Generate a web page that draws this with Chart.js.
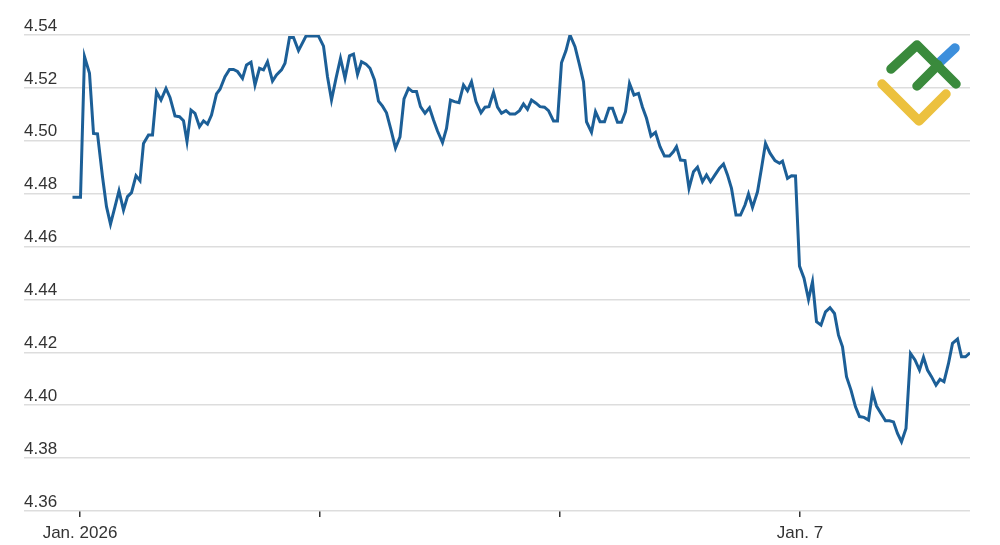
<!DOCTYPE html>
<html>
<head>
<meta charset="utf-8">
<script src="https://cdn.jsdelivr.net/npm/chart.js@4.4.1/dist/chart.umd.min.js"></script>
<style>
  html, body { margin: 0; padding: 0; background: #fff; }
  canvas { display: block; }
</style>
</head>
<body>
<canvas id="grafica" width="1000" height="545"></canvas>
<script>
// ─────────────────────────────────────────
// DATOS (horas desde el 1 de enero, rendimiento %)
// ─────────────────────────────────────────

const horas = [
  -1.5, 0.1, 0.9, 1.9, 2.7, 3.5, 4.5, 5.3, 6.1, 7.0, 7.8, 8.7, 9.5, 10.3, 11.2, 12.0,
  12.7, 13.7, 14.5, 15.3, 16.2, 17.2, 18.0, 19.0, 19.9, 20.7, 21.4, 22.2, 23.0, 23.9,
  24.7, 25.5, 26.3, 27.3, 28.0, 29.0, 29.9, 30.7, 31.5, 32.5, 33.3, 34.2, 35.0, 35.9,
  36.7, 37.5, 38.5, 39.3, 40.3, 41.0, 41.9, 42.7, 43.7, 45.2, 47.7, 48.7, 49.5, 50.3,
  51.2, 52.1, 53.0, 53.9, 54.7, 55.5, 56.3, 57.2, 58.0, 58.9, 59.7, 60.5, 61.3, 62.2,
  63.1, 64.0, 64.8, 65.7, 66.5, 67.3, 68.1, 69.0, 69.9, 70.7, 71.5, 72.5, 73.3, 74.1,
  74.9, 75.8, 76.7, 77.5, 78.3, 79.2, 80.2, 81.0, 81.8, 82.7, 83.5, 84.3, 85.2, 86.0,
  87.0, 87.9, 88.7, 89.5, 90.3, 91.2, 92.0, 92.9, 93.7, 94.7, 95.5, 96.3, 97.2, 98.0,
  99.0, 99.9, 100.7, 101.3, 102.3, 103.1, 104.0, 104.9, 105.8, 106.5, 107.5, 108.3,
  109.1, 109.9, 110.8, 111.7, 112.5, 113.3, 114.2, 115.1, 116.0, 116.9, 117.9, 118.7,
  119.3, 120.1, 121.0, 121.8, 122.7, 123.5, 124.5, 125.3, 126.1, 127.0, 127.9, 128.7,
  129.5, 130.3, 131.2, 132.1, 133.0, 133.7, 134.5, 135.5, 136.3, 137.1, 138.0, 139.0,
  139.9, 140.5, 141.5, 142.3, 143.1, 143.9, 144.8, 145.7, 146.5, 147.3, 148.2, 149.1,
  150.0, 150.9, 151.7, 152.5, 153.3, 154.2, 155.1, 155.9, 156.8, 157.7, 158.5, 159.3,
  160.2, 161.1, 161.9, 162.7, 163.5, 164.3, 165.2, 166.1, 167.0, 167.9, 168.7, 169.5,
  170.3, 171.2, 172.0, 172.8, 173.7, 174.5, 175.5, 176.3, 177.1, 178.0
];

const rendimientos = [
  4.4786, 4.4786, 4.5318, 4.5255, 4.5028, 4.5026, 4.4864, 4.4751, 4.4685, 4.4751, 4.4811, 4.4738, 4.4789, 4.4804, 4.4868, 4.4849,
  4.4990, 4.5022, 4.5022, 4.5186, 4.5154, 4.5198, 4.5164, 4.5094, 4.5091, 4.5076, 4.4997, 4.5116, 4.5104, 4.5053,
  4.5075, 4.5063, 4.5097, 4.5177, 4.5195, 4.5242, 4.5270, 4.5270, 4.5262, 4.5236, 4.5287, 4.5297, 4.5211, 4.5274,
  4.5268, 4.5299, 4.5226, 4.5249, 4.5268, 4.5293, 4.5391, 4.5391, 4.5341, 4.5396, 4.5396, 4.5358, 4.5242, 4.5154,
  4.5236, 4.5312, 4.5236, 4.5321, 4.5328, 4.5251, 4.5299, 4.5290, 4.5274, 4.5230, 4.5150, 4.5131, 4.5106, 4.5041,
  4.4972, 4.5015, 4.5158, 4.5198, 4.5186, 4.5186, 4.5129, 4.5104, 4.5125, 4.5079, 4.5037, 4.4993, 4.5047, 4.5154,
  4.5148, 4.5144, 4.5211, 4.5189, 4.5223, 4.5148, 4.5106, 4.5127, 4.5129, 4.5183, 4.5127, 4.5104, 4.5114, 4.5101,
  4.5101, 4.5114, 4.5139, 4.5119, 4.5154, 4.5142, 4.5129, 4.5127, 4.5114, 4.5075, 4.5075, 4.5295, 4.5341, 4.5400,
  4.5356, 4.5287, 4.5223, 4.5072, 4.5032, 4.5110, 4.5072, 4.5072, 4.5123, 4.5123, 4.5070, 4.5070,
  4.5110, 4.5217, 4.5173, 4.5179, 4.5127, 4.5085, 4.5018, 4.5032, 4.4978, 4.4942, 4.4942, 4.4959,
  4.4978, 4.4927, 4.4925, 4.4820, 4.4883, 4.4900, 4.4845, 4.4871, 4.4845, 4.4871, 4.4896, 4.4912,
  4.4871, 4.4820, 4.4719, 4.4719, 4.4757, 4.4799, 4.4748, 4.4807, 4.4896, 4.4990, 4.4953, 4.4925,
  4.4915, 4.4923, 4.4858, 4.4868, 4.4867, 4.4526, 4.4480, 4.4400, 4.4467, 4.4316, 4.4303, 4.4353,
  4.4369, 4.4347, 4.4265, 4.4221, 4.4108, 4.4057, 4.3994, 4.3957, 4.3954, 4.3944, 4.4049, 4.3997,
  4.3969, 4.3941, 4.3941, 4.3937, 4.3893, 4.3862, 4.3912, 4.4196, 4.4171, 4.4133, 4.4181, 4.4133,
  4.4108, 4.4076, 4.4098, 4.4089, 4.4158, 4.4234, 4.4250, 4.4183, 4.4183, 4.4198
];

// marcas del eje X (horas) y sus etiquetas
const ticksX     = [0, 48, 96, 144];
const etiquetasX = ["Jan. 2026", "", "", "Jan. 7"];

// marcas del eje Y
const ticksY = [4.36, 4.38, 4.40, 4.42, 4.44, 4.46, 4.48, 4.50, 4.52, 4.54];

// ─────────────────────────────────────────
// LOGO (marca de agua arriba a la derecha)
// ─────────────────────────────────────────

const logoPlugin = {
  id: "logo",
  afterDraw(chart) {
    const ctx = chart.ctx;
    ctx.save();
    ctx.lineCap = "round";
    ctx.lineJoin = "round";
    ctx.lineWidth = 9.5;

    // V amarilla
    ctx.strokeStyle = "#ecc13f";
    ctx.beginPath();
    ctx.moveTo(882, 84);
    ctx.lineTo(919, 121);
    ctx.lineTo(946, 94);
    ctx.stroke();

    // trazo azul
    ctx.strokeStyle = "#3d8fdc";
    ctx.beginPath();
    ctx.moveTo(940, 62);
    ctx.lineTo(955, 48);
    ctx.stroke();

    // forma verde
    ctx.strokeStyle = "#3a8a3c";
    ctx.beginPath();
    ctx.moveTo(891, 69);
    ctx.lineTo(917, 45);
    ctx.lineTo(956, 84);
    ctx.stroke();
    ctx.beginPath();
    ctx.moveTo(917, 86);
    ctx.lineTo(938, 65);
    ctx.stroke();

    ctx.restore();
  }
};

// ─────────────────────────────────────────
// GRÁFICA
// ─────────────────────────────────────────

new Chart(document.getElementById("grafica"), {
  type: "line",
  data: {
    datasets: [{
      label: "Rendimiento",
      data: horas.map((h, i) => ({ x: h, y: rendimientos[i] })),
      borderColor: "#1c5f97",
      borderWidth: 3,
      pointRadius: 0,
      tension: 0,
      fill: false
    }]
  },
  options: {
    responsive: false,
    animation: false,
    layout: { padding: { left: 24, right: 30, top: 35, bottom: 0 } },
    plugins: {
      legend: { display: false },
      tooltip: { enabled: false }
    },
    scales: {
      x: {
        type: "linear",
        min: -11.2,
        max: 178,
        afterBuildTicks: s => { s.ticks = ticksX.map(v => ({ value: v })); },
        afterFit: s => { s.height = 34; },
        border: { display: false },
        grid: {
          drawOnChartArea: false,
          drawTicks: true,
          tickLength: 6,
          color: "#333",
          lineWidth: 1.5
        },
        ticks: {
          autoSkip: false,
          maxRotation: 0,
          padding: 6,
          color: "#333",
          font: { family: "Liberation Sans", size: 17 },
          callback: (v, i) => etiquetasX[i]
        }
      },
      y: {
        min: 4.36,
        max: 4.54,
        afterBuildTicks: s => { s.ticks = ticksY.map(v => ({ value: v })); },
        afterFit: s => { s.width = 0; },
        border: { display: false },
        grid: {
          color: "#dddddd",
          lineWidth: 1.5,
          drawTicks: false
        },
        ticks: {
          mirror: true,
          padding: 0,
          labelOffset: -9,
          color: "#333",
          font: { family: "Liberation Sans", size: 17 },
          callback: v => v.toFixed(2)
        }
      }
    }
  },
  plugins: [logoPlugin]
});
</script>
</body>
</html>
